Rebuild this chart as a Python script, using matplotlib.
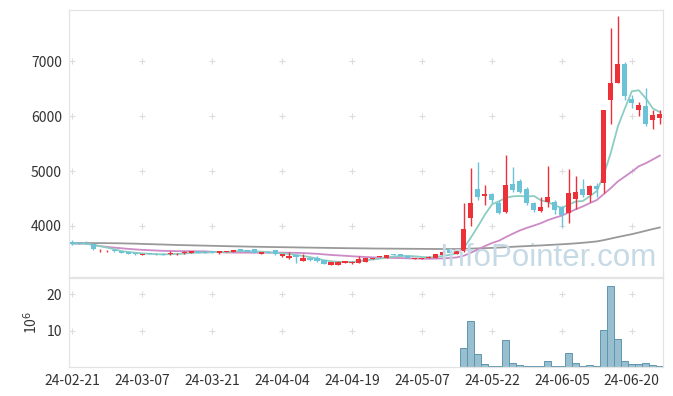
import numpy as np
import pandas as pd
import matplotlib
matplotlib.use('Agg')
import matplotlib.pyplot as plt

plt.rcParams['font.family'] = ['Noto Sans CJK KR', 'DejaVu Sans']

# daily candles, 24-02-21 .. 24-06-26 (trading days only)
open_ = [3715, 3690, 3695, 3670, 3535, 3535, 3565, 3540, 3530, 3505,
         3475, 3505, 3495, 3490, 3480, 3480, 3500, 3505, 3535, 3530,
         3535, 3500, 3530, 3530, 3580, 3560, 3575, 3490, 3530, 3560,
         3445, 3410, 3470, 3370, 3410, 3410, 3380, 3295, 3295, 3330,
         3320, 3325, 3350, 3405, 3435, 3425, 3480, 3490, 3460, 3395,
         3395, 3425, 3415, 3475, 3575, 3485, 3540, 4150, 4670, 4550,
         4580, 4410, 4260, 4760, 4820, 4670, 4420, 4265, 4430, 4440,
         4350, 4230, 4490, 4670, 4565, 4725, 4775, 6300, 6595, 6945,
         6320, 6110, 6180, 5925, 5970]
high = [3740, 3700, 3730, 3680, 3580, 3555, 3575, 3550, 3540, 3515,
        3495, 3515, 3505, 3500, 3545, 3510, 3535, 3550, 3540, 3535,
        3540, 3550, 3545, 3565, 3585, 3570, 3580, 3530, 3535, 3565,
        3490, 3520, 3475, 3490, 3415, 3450, 3385, 3345, 3355, 3370,
        3355, 3455, 3420, 3420, 3460, 3475, 3485, 3495, 3465, 3415,
        3420, 3445, 3490, 3525, 3580, 3555, 4410, 5050, 5170, 4745,
        4600, 4470, 5290, 5070, 4850, 4710, 4440, 4520, 5090, 4470,
        4360, 5030, 4910, 4850, 4745, 4775, 6110, 7595, 7820, 6990,
        6380, 6260, 6520, 6110, 6120]
low = [3650, 3665, 3670, 3570, 3530, 3530, 3525, 3500, 3490, 3470,
       3470, 3480, 3475, 3465, 3475, 3475, 3490, 3500, 3505, 3500,
       3515, 3495, 3525, 3525, 3540, 3525, 3500, 3485, 3500, 3475,
       3440, 3405, 3320, 3365, 3370, 3350, 3305, 3290, 3290, 3325,
       3315, 3320, 3345, 3400, 3430, 3420, 3465, 3455, 3420, 3390,
       3390, 3420, 3410, 3470, 3510, 3480, 3530, 3990, 4470, 4380,
       4420, 4210, 4230, 4625, 4600, 4380, 4260, 4255, 4350, 4210,
       3980, 4060, 4310, 4535, 4440, 4535, 4595, 5865, 6595, 6300,
       6140, 6000, 5820, 5760, 5865]
close = [3680, 3675, 3680, 3580, 3545, 3545, 3535, 3510, 3495, 3480,
         3485, 3490, 3480, 3470, 3515, 3490, 3525, 3535, 3510, 3510,
         3525, 3545, 3535, 3560, 3545, 3530, 3505, 3525, 3505, 3480,
         3485, 3460, 3430, 3410, 3375, 3355, 3310, 3340, 3350, 3365,
         3350, 3395, 3415, 3415, 3445, 3470, 3470, 3460, 3425, 3410,
         3410, 3440, 3485, 3520, 3515, 3545, 3945, 4420, 4530, 4590,
         4470, 4230, 4745, 4660, 4625, 4410, 4290, 4345, 4520, 4290,
         4200, 4600, 4615, 4565, 4725, 4675, 6110, 6595, 6945, 6365,
         6245, 6200, 5865, 6020, 6035]
# volume in millions of shares
volume = [0.05, 0.04, 0.05, 0.06, 0.04, 0.03, 0.04, 0.05, 0.04, 0.03,
          0.04, 0.03, 0.03, 0.04, 0.05, 0.03, 0.04, 0.04, 0.03, 0.03,
          0.03, 0.04, 0.03, 0.04, 0.04, 0.03, 0.04, 0.03, 0.03, 0.04,
          0.04, 0.05, 0.05, 0.05, 0.03, 0.04, 0.05, 0.04, 0.04, 0.03,
          0.03, 0.06, 0.04, 0.03, 0.04, 0.04, 0.03, 0.03, 0.04, 0.03,
          0.03, 0.03, 0.05, 0.05, 0.05, 0.05, 5.1, 12.6, 3.7, 0.9,
          0.2, 0.2, 7.35, 1.2, 0.45, 0.15, 0.15, 0.15, 1.55, 0.15,
          0.15, 3.75, 1.2, 0.15, 0.45, 0.15, 10.1, 22.2, 7.6, 1.55,
          0.75, 0.75, 1.2, 0.45, 0.2]
# 120-day average (it uses history before this window)
ma120 = [3690, 3690, 3689, 3688, 3687, 3686, 3685, 3683, 3680, 3677,
         3673, 3669, 3665, 3661, 3657, 3653, 3650, 3647, 3644, 3641,
         3638, 3635, 3632, 3629, 3627, 3624, 3621, 3619, 3617, 3615,
         3613, 3611, 3609, 3607, 3605, 3603, 3601, 3599, 3597, 3595,
         3594, 3592, 3591, 3589, 3588, 3587, 3586, 3585, 3584, 3583,
         3582, 3581, 3580, 3580, 3579, 3580, 3582, 3587, 3591, 3595,
         3600, 3606, 3613, 3620, 3627, 3633, 3639, 3645, 3652, 3659,
         3666, 3674, 3683, 3693, 3705, 3718, 3742, 3770, 3798, 3824,
         3850, 3880, 3912, 3943, 3972]
tick_idx = [0, 10, 20, 30, 40, 50, 60, 70, 80]
tick_labels = ['24-02-21', '24-03-07', '24-03-21', '24-04-04', '24-04-19',
               '24-05-07', '24-05-22', '24-06-05', '24-06-20']
price_ticks = [4000, 5000, 6000, 7000]
vol_ticks = [10, 20]

o = np.array(open_)
c = np.array(close)
x = np.arange(len(c))
ma5 = pd.Series(c).rolling(5, min_periods=1).mean()
ma20 = pd.Series(c).rolling(20, min_periods=1).mean()

RED = '#ec3238'
BLUE = '#6cc3d8'
cols = [RED if cc >= oo else BLUE for oo, cc in zip(o, c)]

fig = plt.figure(figsize=(6.73, 3.96), dpi=100)
ax = fig.add_axes([0.1025, 0.3005, 0.8826, 0.674])
axv = fig.add_axes([0.1025, 0.0732, 0.8826, 0.2247], sharex=ax)

# watermark behind everything
fig.text(0.8135, 0.3283, 'InfoPointer.com', fontsize=22.5, family='Liberation Sans',
         color='#c6dae6', ha='center', va='baseline', zorder=0)

# grid "+" markers
gx, gy = np.meshgrid(tick_idx, price_ticks)
ax.scatter(gx.ravel(), gy.ravel(), marker='+', s=18, color='#dcdcdc', lw=0.8, zorder=1)
gx, gy = np.meshgrid(tick_idx, vol_ticks)
axv.scatter(gx.ravel(), gy.ravel(), marker='+', s=18, color='#dcdcdc', lw=0.8, zorder=1)

ax.plot(x, ma120, color='#999999', lw=1.3, zorder=2)
ax.plot(x, ma20, color='#cc8ac6', lw=1.3, zorder=2)
ax.plot(x, ma5, color='#8ccdc2', lw=1.3, zorder=2)

ax.vlines(x, low, high, colors=cols, lw=1.0, zorder=3)
body = np.maximum(np.abs(c - o), 8)
ax.bar(x, body, bottom=np.minimum(o, c), width=0.72, color=cols, zorder=4)

axv.bar(x, volume, width=1.0, color='#97bfd0', edgecolor='#5f96ae', lw=0.7, zorder=2)

ax.set_xlim(-0.45, 84.45)
ax.set_ylim(3070, 7930)
axv.set_ylim(0, 24.4)

ax.set_yticks(price_ticks)
ax.set_yticklabels([str(t) for t in price_ticks])
axv.set_yticks(vol_ticks)
axv.set_xticks(tick_idx)
axv.set_xticklabels(tick_labels)
axv.set_ylabel('10$^6$', fontsize=10, color='#333333', labelpad=5)

for a in (ax, axv):
    a.tick_params(length=0, labelsize=10, colors='#333333', pad=5)
    for s in a.spines.values():
        s.set_color('#e4e4e4')
        s.set_linewidth(0.9)
    a.set_facecolor('none')
plt.setp(ax.get_xticklabels(), visible=False)

fig.savefig('out.png', dpi=100)
